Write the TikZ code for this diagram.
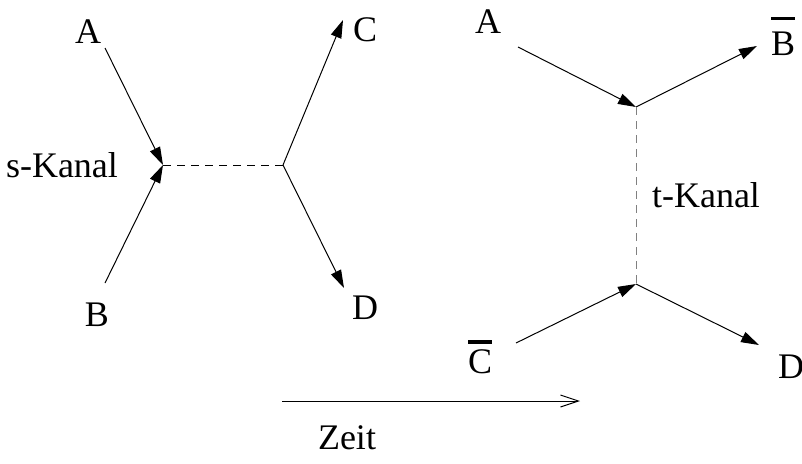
\documentclass[tikz,border=0pt]{standalone}
\usepackage{fontspec}
\setmainfont{Liberation Serif}
\usetikzlibrary{arrows.meta,positioning}
\tikzset{every picture/.style={line width=0.5pt}}
\tikzset{
  teil/.style={-{Triangle[length=9pt,width=5.5pt]}},
  prop/.style={dash pattern=on 4pt off 3pt},
  lbl/.style={inner sep=0pt,font=\fontsize{18}{20}\selectfont}
}
\newcommand\balken[2][3pt]{\vbox{\hrule height 1.8pt\kern #1\hbox{#2}}}

\begin{document}
\begin{tikzpicture}[x=0.5pt,y=-0.5pt]
    \useasboundingbox (0,0) rectangle (802,463);

    % s-Kanal
    \coordinate (v1) at (163,165);
    \coordinate (v2) at (283,165);
    \node[lbl] (sA) at (88,32) {A};
    \node[lbl] (sB) at (97,315) {B};
    \node[lbl] (sC) at (365,30) {C};
    \node[lbl] (sD) at (365,308) {D};
    \node[lbl] (skanal) at (62,165) {s-Kanal};
    \coordinate (sAe) at (105,48);
    \coordinate (sBe) at (105,283);
    \coordinate (sCe) at (343,20);
    \coordinate (sDe) at (344,288);
    \draw[teil] (sAe) -- (v1);
    \draw[teil] (sBe) -- (v1);
    \draw[prop] (v1) -- (v2);
    \draw[teil] (v2) -- (sCe);
    \draw[teil] (v2) -- (sDe);

    % t-Kanal
    \coordinate (v3) at (636,107);
    \coordinate (v4) at (636,284);
    \node[lbl] (tA) at (488,22) {A};
    \node[lbl] (tB) at (783,36) {\balken[5.5pt]{B}};
    \node[lbl] (tC) at (480,357) {\balken{C}};
    \node[lbl] (tD) at (791,367) {D};
    \node[lbl] (tkanal) at (706,195) {t-Kanal};
    \coordinate (tAe) at (518,47);
    \coordinate (tBe) at (757,46);
    \coordinate (tCe) at (516,343);
    \coordinate (tDe) at (759,345);
    \draw[teil] (tAe) -- (v3);
    \draw[teil] (v3) -- (tBe);
    \draw[prop,gray] (v3) -- (v4);
    \draw[teil] (tCe) -- (v4);
    \draw[teil] (v4) -- (tDe);

    % Zeit
    \coordinate (z1) at (282,401);
    \coordinate (z2) at (580,401);
    \node[lbl] (zeit) at (347,438) {Zeit};
    \draw[-{Straight Barb[length=9pt,width=6pt]}] (z1) -- (z2);
\end{tikzpicture}
\end{document}
